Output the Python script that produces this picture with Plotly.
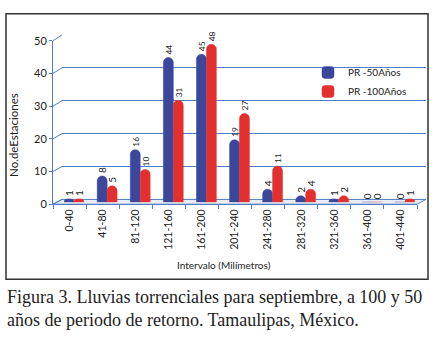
import plotly.graph_objects as go

categories = ["0-40", "41-80", "81-120", "121-160", "161-200", "201-240",
              "241-280", "281-320", "321-360", "361-400", "401-440"]
pr50 = [1, 8, 16, 44, 45, 19, 4, 2, 1, 0, 0]
pr100 = [1, 5, 10, 31, 48, 27, 11, 4, 2, 0, 1]
yticks = [0, 10, 20, 30, 40, 50]
series_names = ["PR -50Años", "PR -100Años"]

W, H = 434, 343
def px(x): return x / W
def py(y): return 1 - y / H

BLUE_GRID = "#4f7cc4"
C50 = "#3a479c"
C100 = "#e3302f"
FONT = "Lato"

# geometry (pixels)
FX0, FX1, FY0, FY1 = 53, 417, 205, 35      # front plane
BX0, BX1, BY0, BY1 = 62, 426, 200, 29      # back wall
MX0, MX1, MY0, MY1 = 57.5, 421.5, 203, 32  # bar plane

fig = go.Figure()

# invisible traces to establish axes
fig.add_trace(go.Scatter(x=categories, y=[0]*len(categories), xaxis="x", yaxis="y",
                         mode="markers", marker=dict(opacity=0), showlegend=False,
                         hoverinfo="skip"))
fig.add_trace(go.Scatter(x=[0, 1], y=[0, 50], xaxis="x2", yaxis="y2",
                         mode="markers", marker=dict(opacity=0), showlegend=False,
                         hoverinfo="skip"))

for name, vals, col in [(series_names[0], pr50, C50), (series_names[1], pr100, C100)]:
    fig.add_trace(go.Bar(
        x=categories, y=vals, name=name, xaxis="x3", yaxis="y3",
        marker=dict(color=col, line=dict(color=col, width=0.5)),
        text=[str(v) for v in vals], textposition="outside", textangle=-90,
        textfont=dict(family=FONT, size=10, color="#222"), cliponaxis=False,
    ))

def yf(v): return FY0 + (FY1 - FY0) * v / 50
def yb(v): return BY0 + (BY1 - BY0) * v / 50

shapes = []
# floor
shapes.append(dict(type="path", xref="paper", yref="paper", layer="below",
                   path=f"M{px(FX0)},{py(FY0)} L{px(FX1)},{py(FY0)} L{px(BX1)},{py(BY0)} L{px(BX0)},{py(BY0)} Z",
                   fillcolor="#e9ecf3", line=dict(color=BLUE_GRID, width=1)))
# connectors
for v in yticks:
    shapes.append(dict(type="line", xref="paper", yref="paper", layer="below",
                       x0=px(FX0), y0=py(yf(v)), x1=px(BX0), y1=py(yb(v)),
                       line=dict(color=BLUE_GRID, width=1)))
# box border
shapes.append(dict(type="rect", xref="paper", yref="paper",
                   x0=px(6), y0=py(7), x1=px(428), y1=py(283),
                   line=dict(color="#333333", width=1.5)))

annotations = [
    dict(text="Intervalo (Milímetros)", xref="paper", yref="paper",
         x=px(224), y=py(268), showarrow=False, xanchor="center", yanchor="middle",
         font=dict(family=FONT, size=10, color="#222")),
    dict(text="No.deEstaciones", xref="paper", yref="paper", textangle=-90,
         x=px(14), y=py(133), showarrow=False, xanchor="center", yanchor="middle",
         font=dict(family=FONT, size=11.5, color="#222")),
    dict(text="Figura 3. Lluvias torrenciales para septiembre, a 100 y 50<br>años de periodo de retorno. Tamaulipas, México.",
         xref="paper", yref="paper", x=px(5), y=py(289), showarrow=False,
         xanchor="left", yanchor="top", align="left",
         font=dict(family="Liberation Serif", size=18, color="#222")),
]

fig.update_layout(
    width=W, height=H, margin=dict(l=0, r=0, t=0, b=0),
    paper_bgcolor="white", plot_bgcolor="rgba(0,0,0,0)",
    barmode="group", bargap=0.4, bargroupgap=0.0,
    xaxis=dict(domain=[px(FX0), px(FX1)], anchor="y", type="category",
               categoryarray=categories, range=[-0.5, 10.5],
               showline=True, linecolor=BLUE_GRID, linewidth=1,
               ticks="outside", tickson="boundaries", ticklen=4, tickcolor=BLUE_GRID,
               tickangle=-90, tickfont=dict(family=FONT, size=10.5, color="#222"),
               showgrid=False, zeroline=False, fixedrange=True),
    yaxis=dict(domain=[py(FY0), py(FY1)], anchor="x", range=[0, 50],
               tickvals=yticks, showline=True, linecolor=BLUE_GRID, linewidth=1,
               ticks="outside", ticklen=3, tickcolor=BLUE_GRID,
               tickfont=dict(family=FONT, size=11, color="#222"),
               showgrid=False, zeroline=False),
    xaxis2=dict(domain=[px(BX0), px(BX1)], anchor="y2", range=[0, 1], visible=False),
    yaxis2=dict(domain=[py(BY0), py(BY1)], anchor="x2", range=[0, 50],
                tickvals=yticks, showgrid=True, gridcolor=BLUE_GRID, gridwidth=1,
                zeroline=False, showticklabels=False, ticks="", showline=False),
    xaxis3=dict(domain=[px(MX0), px(MX1)], anchor="y3", type="category",
                categoryarray=categories, range=[-0.5, 10.5], visible=False),
    yaxis3=dict(domain=[py(MY0), py(MY1)], anchor="x3", range=[0, 50], visible=False),
    barcornerradius="50%",
    legend=dict(x=px(308), y=py(53), xanchor="left", yanchor="top",
                bgcolor="rgba(0,0,0,0)", font=dict(family=FONT, size=10, color="#222"),
                itemwidth=30, tracegroupgap=0),
    shapes=shapes, annotations=annotations,
)

fig.write_html("out.html")
